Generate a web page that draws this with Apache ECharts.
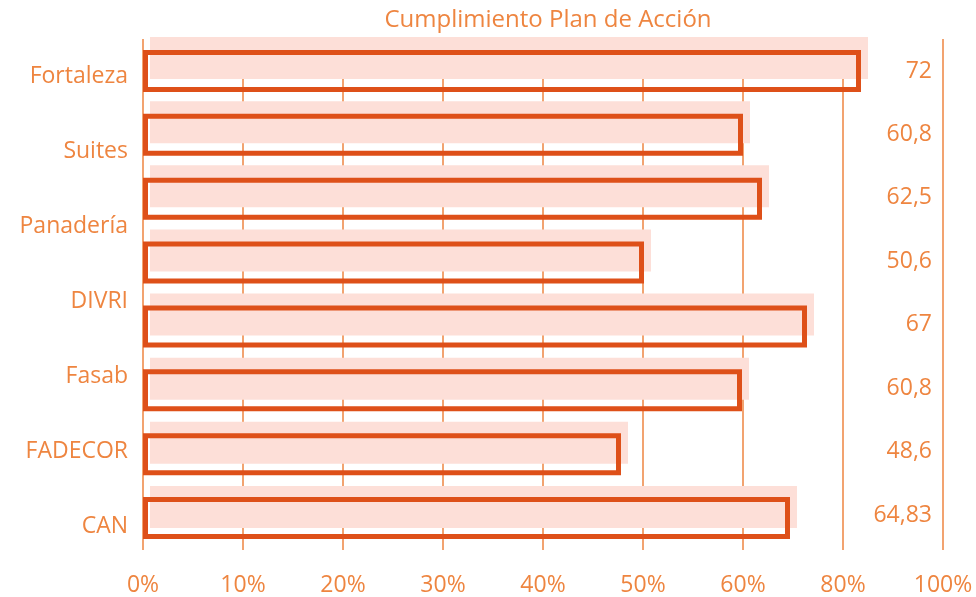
<!DOCTYPE html>
<html lang="es">
<head>
    <meta charset="UTF-8">
    <title>Cumplimiento Plan de Acción</title>
    <style>
        html, body { margin: 0; padding: 0; background: #fff; }
        #main { width: 976px; height: 597px; }
    </style>
    <script src="https://cdn.jsdelivr.net/npm/echarts@6/dist/echarts.min.js"></script>
</head>
<body>
<div id="main"></div>
<script type="text/javascript">
    // datos del gráfico
    var barras = ['Fortaleza', 'Suites', 'Panadería', '', 'DIVRI', 'Fasab', 'FADECOR', 'CAN'];
    // largo de las barras (las etiquetas de la derecha no coinciden exactamente)
    var valores = [71.8, 60, 61.9, 50.1, 66.4, 59.9, 47.8, 64.7];
    var etiquetasValor = ['72', '60,8', '62,5', '50,6', '67', '60,8', '48,6', '64,83'];
    var etiquetasIzq = ['Fortaleza', 'Suites', 'Panadería', 'DIVRI', 'Fasab', 'FADECOR', 'CAN'];
    var ticksX = ['0%', '10%', '20%', '30%', '40%', '50%', '60%', '80%', '100%'];

    var naranja = '#EE8540';
    var borde = '#DE5019';
    var rosa = '#FDDFD8';
    var fuente = 'Open Sans';

    var myChart = echarts.init(document.getElementById('main'));

    var option = {
        animation: false,
        title: {
            text: 'Cumplimiento Plan de Acción',
            left: 543, top: 3, textAlign: 'center',
            textStyle: { color: naranja, fontSize: 24, fontWeight: 'normal', fontFamily: fuente }
        },
        grid: [
            // barras con borde
            { left: 143, right: 33, top: 39, bottom: 45 },
            // barras rosadas (sombra desplazada)
            { left: 150, right: 26, top: 26, bottom: 58 },
            // etiquetas de la izquierda
            { left: 143, right: 33, top: 76, bottom: 71 },
            // etiquetas de valores a la derecha
            { left: 940, right: 10, top: 71, bottom: 82 }
        ],
        xAxis: [
            {
                gridIndex: 0, type: 'value', min: 0, max: 80, interval: 10,
                axisLine: { show: false }, axisTick: { show: false },
                splitLine: { show: true, lineStyle: { color: naranja, width: 1.5 } },
                axisLabel: {
                    color: naranja, fontSize: 23, fontFamily: fuente, margin: 24,
                    formatter: function (v) { return ticksX[Math.round(v / 10)]; }
                }
            },
            { gridIndex: 1, type: 'value', min: 0, max: 80, show: false },
            { gridIndex: 2, type: 'value', show: false },
            { gridIndex: 3, type: 'value', show: false }
        ],
        yAxis: [
            { gridIndex: 0, type: 'category', data: barras, inverse: true, show: false },
            { gridIndex: 1, type: 'category', data: barras, inverse: true, show: false },
            {
                gridIndex: 2, type: 'category', data: etiquetasIzq, inverse: true, boundaryGap: false,
                axisLine: { show: false }, axisTick: { show: false }, splitLine: { show: false },
                axisLabel: { color: naranja, fontSize: 23, fontFamily: fuente, margin: 15 }
            },
            {
                gridIndex: 3, type: 'category', data: etiquetasValor, inverse: true, boundaryGap: false,
                position: 'left',
                axisLine: { show: false }, axisTick: { show: false }, splitLine: { show: false },
                axisLabel: { color: naranja, fontSize: 23, fontFamily: fuente, margin: 8 }
            }
        ],
        series: [
            {
                name: 'sombra', type: 'bar', xAxisIndex: 1, yAxisIndex: 1,
                data: valores, barWidth: 42, z: 1, silent: true,
                itemStyle: { color: rosa }
            },
            {
                name: 'Cumplimiento', type: 'bar', xAxisIndex: 0, yAxisIndex: 0,
                data: valores, barWidth: 42, z: 3,
                itemStyle: { color: 'rgba(0,0,0,0)', borderColor: borde, borderWidth: 5 }
            }
        ]
    };

    myChart.setOption(option);
</script>
</body>
</html>
